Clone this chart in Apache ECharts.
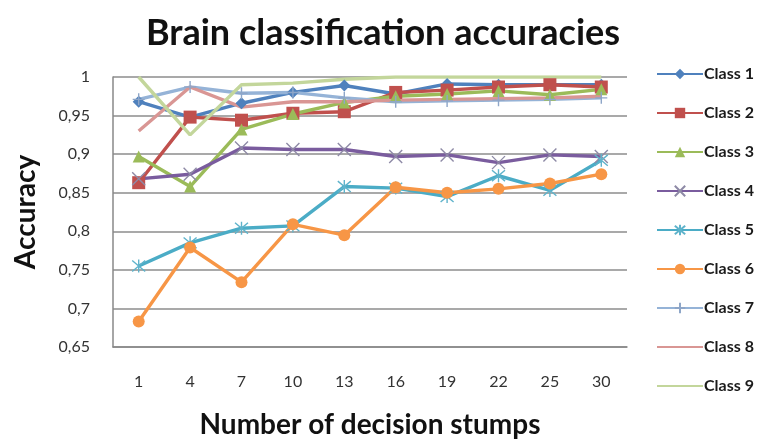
<!DOCTYPE html>
<html>
<head>
<meta charset="utf-8">
<script src="https://cdn.jsdelivr.net/npm/echarts@6/dist/echarts.min.js"></script>
<style>
  html, body { margin: 0; padding: 0; background: #fff; }
  #chart { width: 763px; height: 444px; }
</style>
</head>
<body>
<div id="chart"></div>
<script>
// Number of decision stumps (x categories)
const stumps = ['1', '4', '7', '10', '13', '16', '19', '22', '25', '30'];

// Per-class accuracy values
const class1 = [0.968, 0.948, 0.966, 0.980, 0.989, 0.978, 0.991, 0.990, 0.990, 0.990];
const class2 = [0.863, 0.948, 0.944, 0.953, 0.955, 0.980, 0.983, 0.987, 0.990, 0.987];
const class3 = [0.897, 0.858, 0.932, 0.952, 0.967, 0.975, 0.978, 0.982, 0.977, 0.984];
const class4 = [0.868, 0.874, 0.908, 0.906, 0.906, 0.897, 0.899, 0.889, 0.899, 0.897];
const class5 = [0.755, 0.785, 0.804, 0.807, 0.858, 0.856, 0.845, 0.872, 0.853, 0.892];
const class6 = [0.683, 0.779, 0.734, 0.809, 0.795, 0.857, 0.850, 0.855, 0.862, 0.874];
const class7 = [0.971, 0.987, 0.979, 0.980, 0.973, 0.968, 0.969, 0.970, 0.971, 0.973];
const class8 = [0.930, 0.987, 0.961, 0.968, 0.968, 0.970, 0.971, 0.972, 0.973, 0.975];
const class9 = [1.000, 0.925, 0.990, 0.992, 0.997, 1.000, 1.000, 1.000, 1.000, 1.000];

const seriesNames = ['Class 1', 'Class 2', 'Class 3', 'Class 4', 'Class 5',
                     'Class 6', 'Class 7', 'Class 8', 'Class 9'];
const seriesValues = [class1, class2, class3, class4, class5, class6, class7, class8, class9];

// Y axis range and tick step
const yMin = 0.65, yMax = 1, yStep = 0.05;

const FONT = 'Lato';

// Stroked marker shapes
const crossPath = 'path://M0,0 L10,10 M10,0 L0,10';
const starPath = 'path://M0,0 L10,10 M10,0 L0,10 M5,-1 L5,11';
const plusPath = 'path://M5,0 L5,10 M0,5 L10,5';

const styles = [
  { color: '#4F81BD', symbol: 'diamond', size: 12 },
  { color: '#C0504D', symbol: 'rect', size: 13 },
  { color: '#9BBB59', symbol: 'triangle', size: 12 },
  { color: '#7A5C9E', symbol: crossPath, size: 13, stroke: '#8E8AA6' },
  { color: '#4BACC6', symbol: starPath, size: 13, stroke: '#5FB3CB' },
  { color: '#F79646', symbol: 'circle', size: 12 },
  { color: '#95B3D7', symbol: plusPath, size: 12, stroke: '#8EA6C8' },
  { color: '#D99694', symbol: 'circle', size: 1, hidden: true },
  { color: '#C3D69B', symbol: 'circle', size: 1, hidden: true }
];

const series = seriesNames.map((name, i) => {
  const s = styles[i];
  const stroked = !!s.stroke;
  return {
    name: name,
    type: 'line',
    data: seriesValues[i],
    symbol: s.symbol,
    symbolSize: s.size,
    showSymbol: !s.hidden,
    lineStyle: { color: s.color, width: 3.4 },
    itemStyle: stroked
      ? { color: s.stroke, borderColor: s.stroke, borderWidth: 1.4 }
      : (s.hidden
          ? { color: 'rgba(0,0,0,0)', borderColor: 'rgba(0,0,0,0)', borderWidth: 0 }
          : { color: s.color, borderWidth: 0 }),
    emphasis: { disabled: true },
    animation: false
  };
});

const chart = echarts.init(document.getElementById('chart'), null, { renderer: 'canvas' });
chart.setOption({
  backgroundColor: '#ffffff',
  animation: false,
  title: {
    text: 'Brain classification accuracies',
    left: 378,
    textAlign: 'center',
    top: 10,
    textStyle: { fontFamily: FONT, fontWeight: 'bold', fontSize: 36, color: '#111' }
  },
  legend: {
    orient: 'vertical',
    left: 651,
    top: 61,
    itemWidth: 46,
    itemHeight: 13,
    itemGap: 23,
    data: seriesNames,
    textStyle: { fontFamily: FONT, fontWeight: 'bold', fontSize: 16, color: '#1a1a1a', padding: [0, 0, 0, -4] }
  },
  grid: { left: 113, right: 136, top: 77, bottom: 96, containLabel: false },
  xAxis: {
    type: 'category',
    data: stumps,
    boundaryGap: true,
    name: 'Number of decision stumps',
    nameLocation: 'middle',
    nameGap: 64,
    nameTextStyle: { fontFamily: FONT, fontWeight: 'bold', fontSize: 28, color: '#111' },
    axisLine: { lineStyle: { color: '#888', width: 1.5 } },
    axisTick: { show: false },
    axisLabel: { fontFamily: FONT, fontSize: 16, color: '#333', margin: 27 }
  },
  yAxis: {
    type: 'value',
    min: yMin,
    max: yMax,
    interval: yStep,
    name: 'Accuracy',
    nameLocation: 'middle',
    nameGap: 73,
    nameTextStyle: { fontFamily: FONT, fontWeight: 'bold', fontSize: 28, color: '#111' },
    axisLine: { show: true, lineStyle: { color: '#888', width: 1.5 } },
    axisTick: { show: false },
    splitLine: { lineStyle: { color: '#8c8c8c', width: 1.5 } },
    axisLabel: {
      fontFamily: FONT, fontSize: 16, color: '#333', margin: 23,
      formatter: v => {
        const r = Math.round(v * 100) / 100;
        return r === 1 ? '1' : String(r).replace('.', ',');
      }
    }
  },
  series: series
});
</script>
</body>
</html>
